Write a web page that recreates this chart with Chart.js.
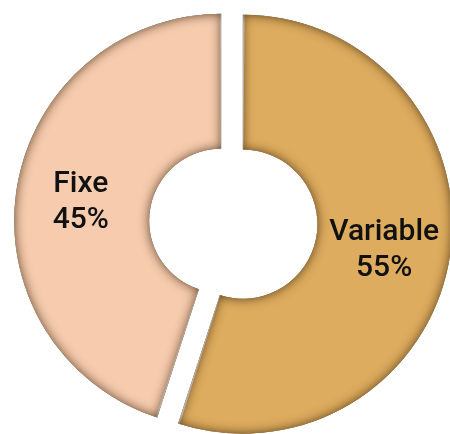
<!DOCTYPE html>
<html>
<head>
<meta charset="utf-8">
<script src="https://cdn.jsdelivr.net/npm/chart.js@4/dist/chart.umd.min.js"></script>
<style>
    html, body { margin: 0; padding: 0; background: #fff; }
    #wrap { width: 450px; height: 434px; position: relative; }
</style>
</head>
<body>
<div id="wrap"><canvas id="costSplitChart"></canvas></div>
<script>
    // chart data
    const categories = ['Variable', 'Fixe'];
    const shares = [55, 45];

    const sliceColors = ['#DDAC5E', '#F6CBAE'];

    // same geometry Chart.js uses when it draws an arc with an offset
    function arcShape(arc) {
        const off = (arc.options.offset || 0) / 4;
        const fix = 1 - Math.sin(Math.min(Math.PI, arc.circumference || 0));
        const half = (arc.startAngle + arc.endAngle) / 2;
        return {
            x: arc.x + Math.cos(half) * off,
            y: arc.y + Math.sin(half) * off,
            outer: arc.outerRadius + off * fix,
            inner: arc.innerRadius + off * fix
        };
    }

    function arcPath(ctx, arc, s) {
        ctx.moveTo(s.x + Math.cos(arc.startAngle) * s.outer, s.y + Math.sin(arc.startAngle) * s.outer);
        ctx.arc(s.x, s.y, s.outer, arc.startAngle, arc.endAngle);
        ctx.arc(s.x, s.y, s.inner, arc.endAngle, arc.startAngle, true);
        ctx.closePath();
    }

    // Inner shadow on every slice
    const innerShadow = {
        id: 'innerShadow',
        afterDatasetsDraw: function (chart) {
            const ctx = chart.ctx;
            chart.getDatasetMeta(0).data.forEach(function (arc) {
                const s = arcShape(arc);
                ctx.save();
                ctx.beginPath();
                arcPath(ctx, arc, s);
                ctx.clip();
                ctx.beginPath();
                ctx.rect(-500, -500, 1500, 1500);
                arcPath(ctx, arc, s);
                ctx.shadowColor = 'rgba(60, 35, 10, 0.8)';
                ctx.shadowBlur = 11;
                ctx.fillStyle = 'rgba(60, 35, 10, 1)';
                ctx.fill('evenodd');
                ctx.restore();
            });
        }
    };

    // Category + percentage in the middle of each slice
    const sliceLabels = {
        id: 'sliceLabels',
        afterDatasetsDraw: function (chart) {
            const ctx = chart.ctx;
            chart.getDatasetMeta(0).data.forEach(function (arc, i) {
                const p = arc.getCenterPoint();
                ctx.save();
                ctx.fillStyle = '#111';
                ctx.font = '500 30px Roboto';
                ctx.textAlign = 'center';
                ctx.textBaseline = 'middle';
                ctx.fillText(categories[i], p.x + 1, p.y - 14);
                ctx.fillText(shares[i] + '%', p.x + 1, p.y + 22);
                ctx.restore();
            });
        }
    };

    const ctx = document.getElementById('costSplitChart').getContext('2d');
    new Chart(ctx, {
        type: 'doughnut',
        data: {
            labels: categories,
            datasets: [{
                data: shares,
                backgroundColor: sliceColors,
                borderWidth: 0,
                offset: [42, 46],
                hoverOffset: 0
            }]
        },
        options: {
            responsive: true,
            maintainAspectRatio: false,
            animation: false,
            radius: 199,
            cutout: '32.2%',
            layout: {
                padding: { left: 15, right: 0, top: 11, bottom: 0 }
            },
            events: [],
            plugins: {
                legend: { display: false },
                tooltip: { enabled: false }
            }
        },
        plugins: [innerShadow, sliceLabels]
    });
</script>
</body>
</html>
